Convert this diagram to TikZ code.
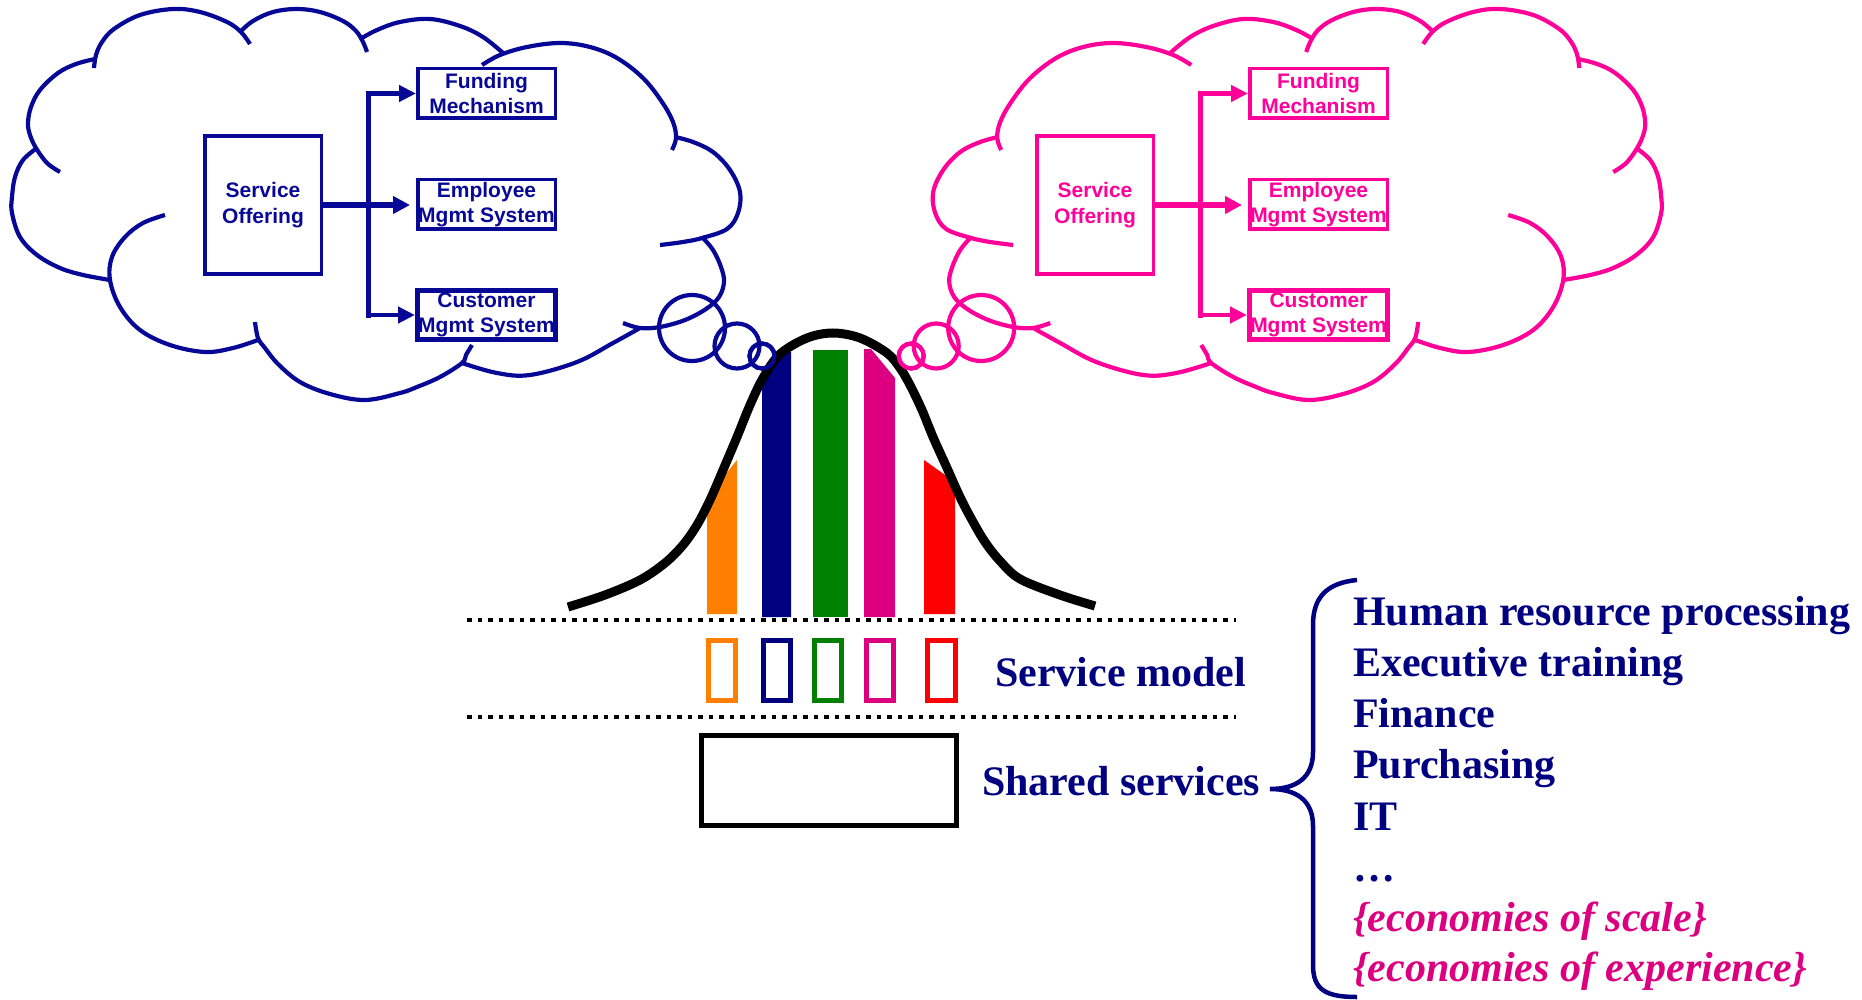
\documentclass[tikz,border=0pt]{standalone}
\usepackage{fontspec}
\setmainfont{Liberation Serif}[
  BoldFont={Liberation Serif Bold},
  ItalicFont={Liberation Serif Italic},
  BoldItalicFont={Liberation Serif Bold Italic}]
\newfontfamily\boxfont{Liberation Sans}[BoldFont={Liberation Sans Bold}]
\newfontfamily\econfont{Liberation Serif Bold Italic}
\usetikzlibrary{arrows.meta}

\definecolor{cloudblue}{RGB}{8,8,150}
\definecolor{cloudpink}{RGB}{255,0,153}
\definecolor{navytext}{RGB}{0,0,128}
\definecolor{barorange}{RGB}{255,128,0}
\definecolor{barnavy}{RGB}{0,0,128}
\definecolor{bargreen}{RGB}{0,128,0}
\definecolor{barmagenta}{RGB}{220,0,128}
\definecolor{barred}{RGB}{255,0,0}

\tikzset{
  cloudline/.style={line width=4.2pt, line join=round},
  inbox/.style={draw, line width=3.5pt, inner sep=0pt, align=center,
    minimum width=137.5pt, minimum height=49.5pt,
    font={\boxfont\bfseries\fontsize{21}{25.5}\selectfont}},
  sobox/.style={inbox, minimum width=116.5pt, minimum height=137.5pt},
  branch/.style={line width=4.5pt, -{Triangle[length=17pt,width=16pt]}},
  trunk/.style={line width=6pt, -{Triangle[length=17pt,width=17pt]}, shorten >=6pt},
  bigtext/.style={text=navytext, inner sep=0pt,
    font={\bfseries\fontsize{42}{51}\selectfont}},
  econtext/.style={text=barmagenta, inner sep=0pt,
    font={\econfont\fontsize{42}{51}\selectfont}},
  slotbox/.style={line width=5pt},
  dotline/.style={line width=4.5pt, dash pattern=on 4.5pt off 6pt}
}

% outline of one thought cloud with its trailing bubbles
\newcommand\cloudbumps{%
  \draw plot[smooth,tension=.6] coordinates {(60,172) (47,163) (36,148) (30,135) (28,123) (31,107) (40,90) (58,73) (76,64) (95,59)};
  \draw plot[smooth,tension=.6] coordinates {(94,68) (96,55) (102,42) (114,29) (140,15) (173,9) (200,12) (227,22) (241,32) (250,44)};
  \draw plot[smooth,tension=.6] coordinates {(240,32) (253,21) (273,12) (297,9) (320,12) (343,21) (356,31) (363,42) (367,52)};
  \draw plot[smooth,tension=.6] coordinates {(362,38) (377,30) (400,22) (430,19) (460,26) (483,37) (503,53)};
  \draw plot[smooth,tension=.6] coordinates {(482,65) (500,55) (527,47) (560,43) (590,47) (617,58) (643,78) (662,102) (673,122) (676,138) (672,150)};
  \draw plot[smooth,tension=.6] coordinates {(675,137) (693,142) (713,152) (730,170) (740,192) (738,213) (727,229) (702,238) (683,242) (660,245)};
  \draw plot[smooth,tension=.6] coordinates {(702,237) (713,250) (721,267) (724,282) (719,297) (706,309) (685,320) (660,327) (640,328) (623,323)};
  \draw plot[smooth,tension=.6] coordinates {(640,328) (613,343) (577,362) (530,375) (497,373) (462,363)};
  \draw plot[smooth,tension=.6] coordinates {(472,345) (466,355) (462,363) (440,377) (417,387) (400,393) (365,400) (330,394) (300,382) (278,364) (265,348) (258,338) (255,322)};
  \draw plot[smooth,tension=.6] coordinates {(258,340) (233,348) (205,352) (170,345) (140,330) (120,307) (110,280) (112,257) (125,237) (143,223) (165,215)};
  \draw plot[smooth,tension=.6] coordinates {(110,280) (83,275) (60,268) (37,255) (20,237) (12,213) (12,197) (15,177) (23,160) (37,148)};
  \draw (692,328) circle[radius=33pt];
  \draw (737,346) circle[radius=22.5pt];
  \draw (762,356) circle[radius=12.5pt];
}

% boxes and arrows inside one cloud; #1 name prefix, #2 colour
\newcommand\cloudboxes[2]{%
  \node[sobox, draw=#2, text=#2] (#1so) at (263,205) {Service\\Offering};
  \node[inbox, draw=#2, text=#2] (#1fund) at (486.5,93.5) {Funding\\Mechanism};
  \node[inbox, draw=#2, text=#2] (#1emp) at (486.5,204.5) {Employee\\Mgmt System};
  \node[inbox, draw=#2, text=#2, line width=5pt, minimum width=138pt, minimum height=49pt] (#1cust) at (486.5,315) {Customer\\Mgmt System};
  \coordinate (#1top) at (368,93.5);
  \coordinate (#1bot) at (368,315);
  \draw[#2, line width=5pt, line cap=rect] (#1top) -- (#1bot);
  \draw[#2, branch] (#1top) -- (#1fund.west);
  \draw[#2, branch] (#1bot) -- (#1cust.west);
  \draw[#2, trunk] (#1so.east) -- (#1so.east -| #1emp.west);
}

\begin{document}
\begin{tikzpicture}[x=1pt, y=-1pt]
\useasboundingbox (0,0) rectangle (1862,1000);

% the two thought clouds (the right one is the mirror image of the left)
\begin{scope}[cloudline, draw=cloudblue]
  \cloudbumps
\end{scope}
\begin{scope}[shift={(1673.2,0)}, xscale=-1, cloudline, draw=cloudpink]
  \cloudbumps
\end{scope}
\cloudboxes{l}{cloudblue}
\begin{scope}[xshift=832pt]
  \cloudboxes{r}{cloudpink}
\end{scope}

% coloured bars under the bell curve
\fill[barorange] (707,614) -- (707,497) -- (737,460) -- (737,614) -- cycle;
\fill[barnavy] (762,617) -- (762,378) -- (780,352) -- (791,352) -- (791,617) -- cycle;
\fill[bargreen] (813,350) rectangle (848,617);
\fill[barmagenta] (864,617) -- (864,349) -- (871,349) -- (895,378) -- (895,617) -- cycle;
\fill[barred] (924,614) -- (924,460) -- (955,482) -- (955,614) -- cycle;

% bell curve
\draw[line width=9pt] plot[smooth, tension=.55] coordinates {
  (568,607) (605,595) (640,580) (665,563) (683,545) (697,525) (710,500)
  (723,470) (737,437) (750,405) (763,378) (780,354) (807,338) (833,333)
  (860,338) (887,353) (900,368) (910,385) (922,410) (933,437) (947,468)
  (960,497) (972,520) (985,542) (1000,561) (1020,579) (1060,595) (1095,606)};

% small bubbles drawn over the curve
\draw[cloudblue, line width=4.2pt] (762,356) circle[radius=12.5pt];
\draw[cloudpink, line width=4.2pt] (911.2,356) circle[radius=12.5pt];

% dotted separators
\coordinate (d1a) at (467,620); \coordinate (d1b) at (1236,620);
\coordinate (d2a) at (467,717); \coordinate (d2b) at (1236,717);
\draw[dotline] (d1a) -- (d1b);
\draw[dotline] (d2a) -- (d2b);

% service model slots
\draw[barorange, slotbox] (708,640.5) rectangle (735,700.5);
\draw[barnavy, slotbox] (763,640.5) rectangle (790,700.5);
\draw[bargreen, slotbox] (814.5,640.5) rectangle (841.5,700.5);
\draw[barmagenta, slotbox] (866.5,640.5) rectangle (893.5,700.5);
\draw[barred, slotbox] (927.5,640.5) rectangle (955.5,700.5);

% shared services box
\draw[line width=5pt] (701.5,735.5) rectangle (956.5,825.5);

\node[bigtext, anchor=base west] (smodel) at (995,686) {Service model};
\node[bigtext, anchor=base west] (shared) at (982,795) {Shared services};

% brace
\coordinate (btip) at (1270,789);
\draw[navytext, line width=4.5pt]
  (1357,580) .. controls (1326,583) and (1313,598) .. (1313,625)
  -- (1313,752) .. controls (1313,778) and (1296,789) .. (btip)
  .. controls (1296,789) and (1313,800) .. (1313,826)
  -- (1313,965) .. controls (1313,990) and (1326,997) .. (1357,997);

% list of shared services
\node[bigtext, anchor=base west] (l1) at (1353,625) {Human resource processing};
\node[bigtext, anchor=base west] (l2) at (1353,676.5) {Executive training};
\node[bigtext, anchor=base west] (l3) at (1353,727) {Finance};
\node[bigtext, anchor=base west] (l4) at (1353,778.5) {Purchasing};
\node[bigtext, anchor=base west] (l5) at (1353,830) {IT};
\node[bigtext, anchor=base west] (l6) at (1353,881.5) {…};
\node[econtext, anchor=base west] (l7) at (1353,931.5) {\{economies of scale\}};
\node[econtext, anchor=base west] (l8) at (1353,981.5) {\{economies of experience\}};
\end{tikzpicture}
\end{document}
